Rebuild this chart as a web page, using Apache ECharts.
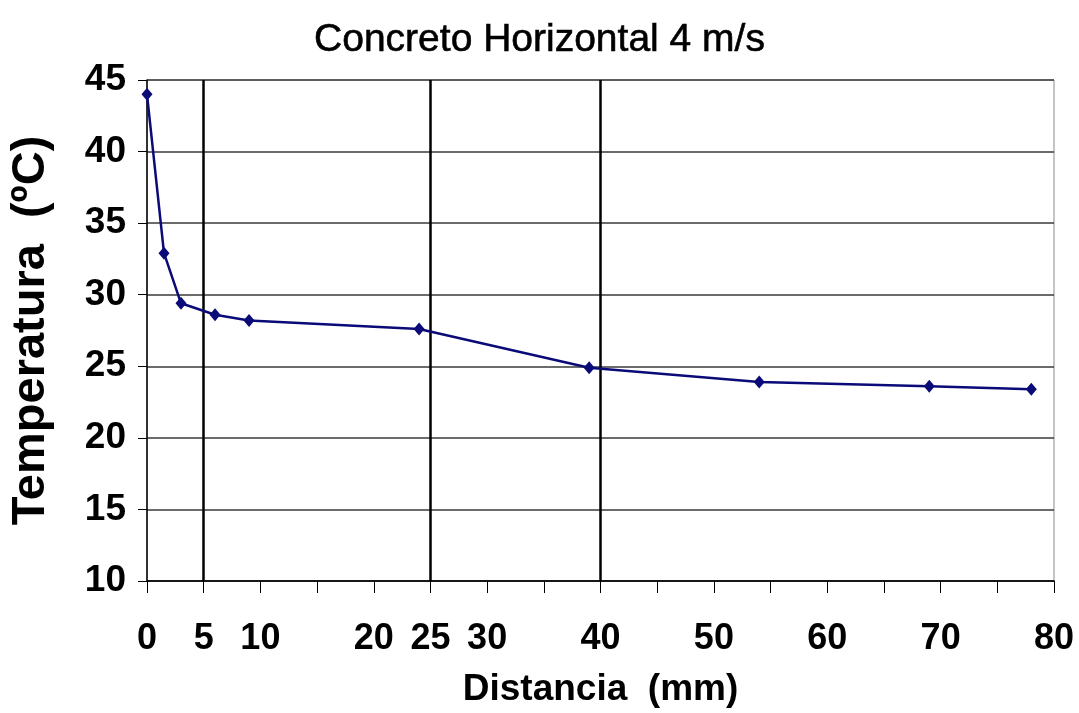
<!DOCTYPE html>
<html>
<head>
<meta charset="utf-8">
<title>Concreto Horizontal 4 m/s</title>
<script src="https://cdn.jsdelivr.net/npm/echarts@6/dist/echarts.min.js"></script>
<style>
  html, body { margin: 0; padding: 0; background: #fff; }
  #chart { width: 1079px; height: 713px; }
</style>
</head>
<body>
<div id="chart"></div>
<script>
// -------------------- datos --------------------
const distancia = [0, 1.5, 3, 6, 9, 24, 39, 54, 69, 78]
const temperatura = [44.0, 32.9, 29.4, 28.6, 28.2, 27.6, 24.9, 23.9, 23.6, 23.4]
// etiquetas visibles del eje X (los demás ticks no llevan texto)
const xTickLabels = [0, 5, 10, 20, 25, 30, 40, 50, 60, 70, 80]
// líneas verticales de referencia
const lineasVerticales = [5, 25, 40]

const FONT = '"Liberation Sans", Arial, sans-serif'

const chart = echarts.init(document.getElementById('chart'))

const option = {
  animation: false,
  backgroundColor: '#fff',
  title: {
    text: 'Concreto Horizontal 4 m/s',
    left: 'center',
    top: 16,
    textStyle: {
      fontFamily: FONT, fontSize: 39, fontWeight: 'normal', color: '#000',
      textBorderColor: '#000', textBorderWidth: 0.6
    }
  },
  grid: {
    left: 146, right: 25, top: 80, bottom: 130,
    show: true,
    borderColor: '#8a8a8a',
    borderWidth: 1
  },
  xAxis: {
    type: 'value',
    min: 0,
    max: 80,
    interval: 5,
    name: 'Distancia  (mm)',
    nameLocation: 'middle',
    nameGap: 90,
    nameTextStyle: { fontFamily: FONT, fontSize: 37, fontWeight: 'bold', color: '#000' },
    axisLine: { show: true, lineStyle: { color: '#000', width: 1.5 } },
    axisTick: { show: true, inside: false, length: 12, lineStyle: { color: '#000', width: 1 } },
    axisLabel: {
      margin: 40,
      fontFamily: FONT,
      fontSize: 36,
      fontWeight: 'bold',
      color: '#000',
      showMinLabel: true,
      showMaxLabel: true,
      formatter: (v) => xTickLabels.includes(v) ? String(v) : ''
    },
    splitLine: { show: false }
  },
  yAxis: {
    type: 'value',
    min: 10,
    max: 45,
    interval: 5,
    name: 'Temperatura  (ºC)',
    nameLocation: 'middle',
    nameGap: 92,
    nameTextStyle: { fontFamily: FONT, fontSize: 47, fontWeight: 'bold', color: '#000' },
    axisLine: { show: true, lineStyle: { color: '#000', width: 1.5 } },
    axisTick: { show: true, inside: false, length: 9, lineStyle: { color: '#000' } },
    axisLabel: {
      margin: 21,
      fontFamily: FONT,
      fontSize: 37,
      fontWeight: 'bold',
      color: '#000'
    },
    splitLine: { show: true, lineStyle: { color: '#3a3a3a', width: 1.5 } }
  },
  series: [
    {
      name: 'Temperatura',
      type: 'line',
      data: distancia.map((d, i) => [d, temperatura[i]]),
      symbol: 'diamond',
      symbolSize: [11, 13],
      lineStyle: { color: '#0a0a78', width: 2.5 },
      itemStyle: { color: '#0a0a78' },
      z: 5,
      markLine: {
        silent: true,
        symbol: ['none', 'none'],
        label: { show: false },
        lineStyle: { color: '#000', width: 2.5, type: 'solid' },
        data: lineasVerticales.map(v => ({ xAxis: v }))
      }
    }
  ]
}

chart.setOption(option)
</script>
</body>
</html>
